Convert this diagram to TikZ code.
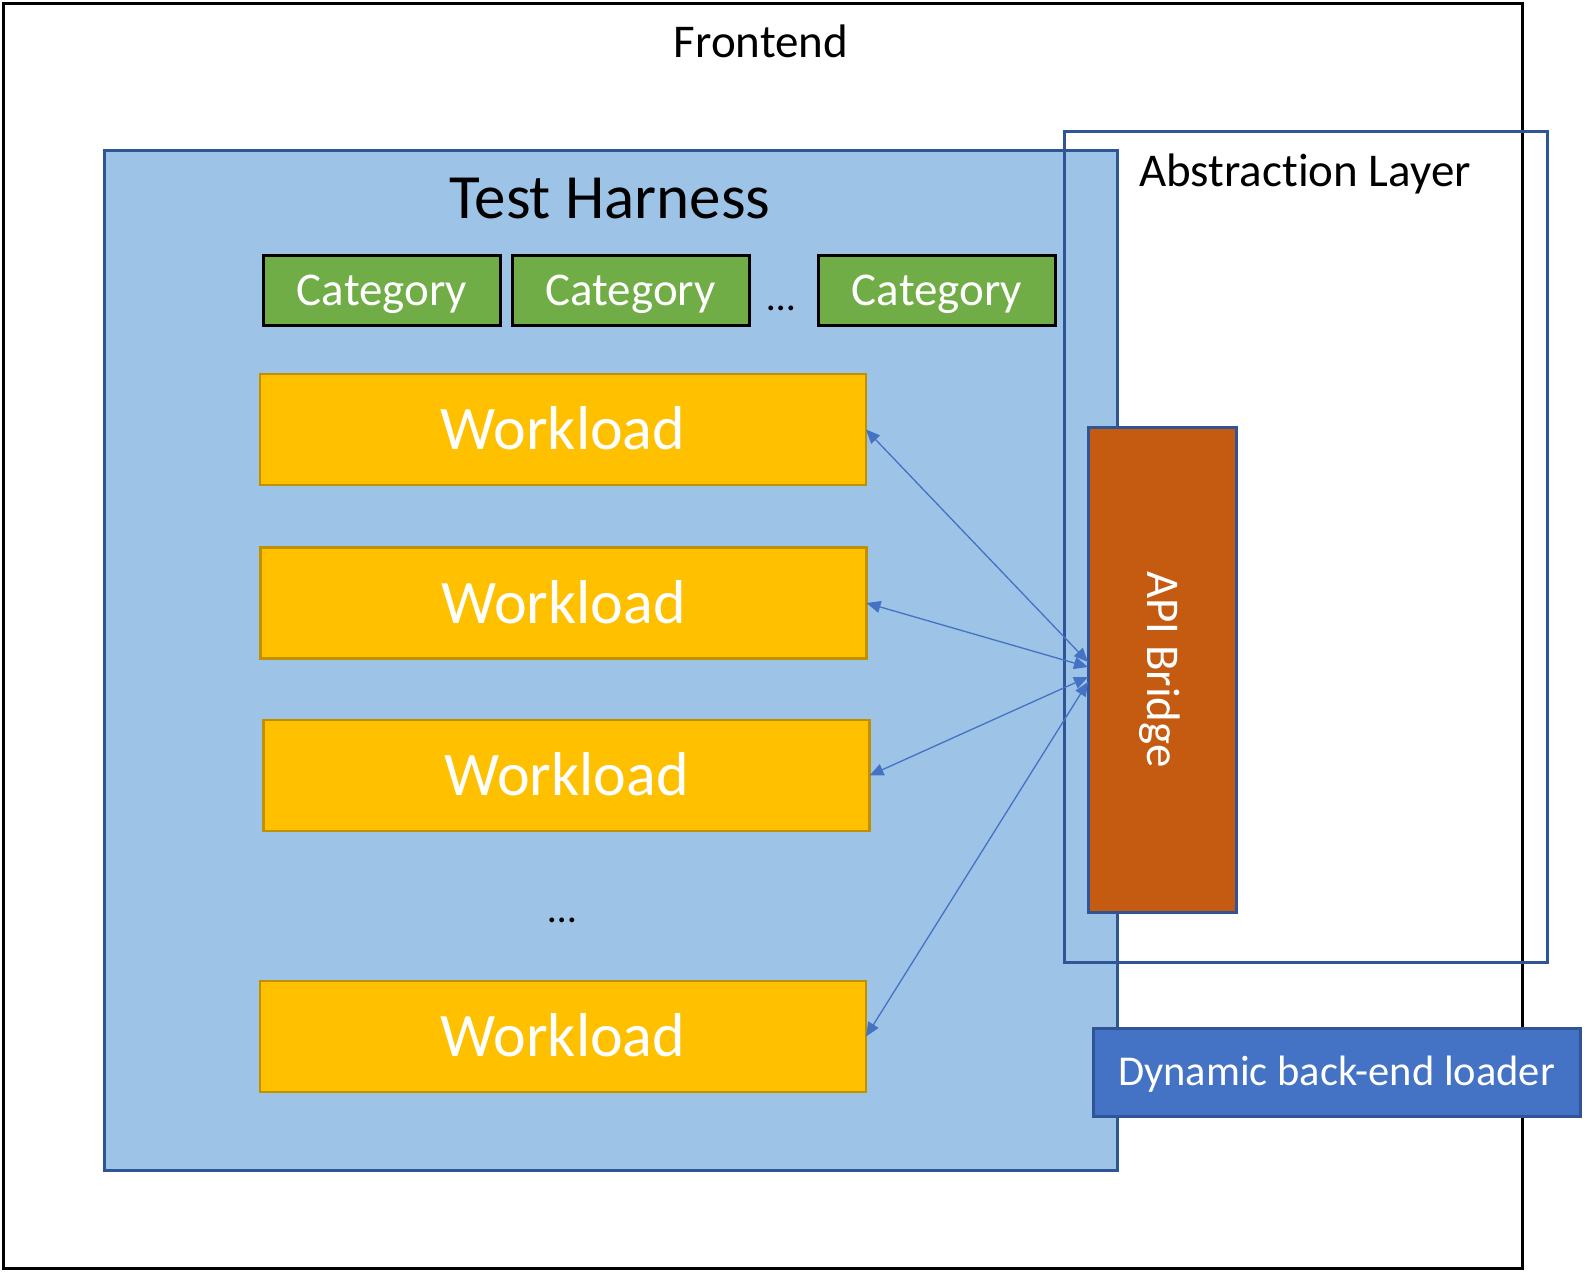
\documentclass[tikz,border=0pt]{standalone}
\usepackage{fontspec}
\setmainfont{Carlito}[Ligatures=NoCommon]
\usetikzlibrary{arrows.meta,positioning}

\definecolor{harnessblue}{HTML}{9DC3E6}
\definecolor{edgeblue}{HTML}{2F5597}
\definecolor{catgreen}{HTML}{70AD47}
\definecolor{wlgold}{HTML}{FFC000}
\definecolor{wledge}{HTML}{BF9000}
\definecolor{bridgeorange}{HTML}{C55A11}
\definecolor{loaderblue}{HTML}{4472C4}

\begin{document}
\begin{tikzpicture}[x=1pt,y=-1pt]
			\tikzset{
				box/.style={draw, line width=3pt, inner sep=0pt, outer sep=0pt},
				captext/.style={text height=#1, text depth=0pt},
				title/.style={captext=30pt, font={\fontsize{47}{56}\selectfont}},
				bigtitle/.style={captext=40.5pt, font={\fontsize{63}{75}\selectfont}},
				catbox/.style={box, captext=30pt, fill=catgreen, draw=black, minimum width=237pt, minimum height=70pt, text=white, font={\fontsize{47}{56}\selectfont}},
				wlbox/.style={box, line width=2.5pt, captext=40pt, fill=wlgold, draw=wledge, minimum width=606pt, minimum height=111pt, text=white, font={\fontsize{62}{74}\selectfont}},
				arrow/.style={{Triangle[length=14pt,width=12pt]}-{Triangle[length=14pt,width=12pt]}, draw=loaderblue, line width=1.3pt},
			}

			\useasboundingbox (0,0) rectangle (1585,1272);

			\node[box, minimum width=1519pt, minimum height=1265pt] (frontend) at (762.5,635.5) {};
			\node[title] (frontendlbl) at (761,42) {Frontend};

			\node[box, fill=harnessblue, draw=edgeblue, minimum width=1013pt, minimum height=1020pt] (harness) at (610.5,660) {};
			\node[bigtitle] (harnesslbl) at (610,198) {Test Harness};

			\node[box, draw=edgeblue, minimum width=483pt, minimum height=831pt] (abstraction) at (1305.5,546.5) {};
			\node[title] (abstractionlbl) at (1305,171) {Abstraction Layer};

			\node[catbox] (cat-1) at (382,290) {Category};
			\node[catbox] (cat-2) at (630.5,290) {Category};
			\node[catbox] (cat-3) at (937,290) {Category};
			\node[font={\fontsize{40}{48}\selectfont}, anchor=base] (catdots) at (781,310) {\dots};

			\foreach \i/\x/\y in {1/563/429.5, 2/563.5/603, 3/566.5/775.5, 4/563/1036.5}
				{
					\node[wlbox] (wl-\i) at (\x,\y) {Workload};
				}
			\node[font={\fontsize{40}{48}\selectfont}, anchor=base] (wldots) at (562,922) {\dots};

			\node[box, fill=bridgeorange, draw=edgeblue, minimum width=148pt, minimum height=485pt] (bridge) at (1162,669.5) {};
			\node[rotate=-90, text=white, title] (bridgelbl) at (bridge.center) {API Bridge};

			\node[box, captext=27.5pt, fill=loaderblue, draw=edgeblue, minimum width=487pt, minimum height=88pt, text=white, font={\fontsize{42.5}{50}\selectfont}] (loader) at (1336.5,1072) {Dynamic back-end loader};

			\foreach \i/\s in {1/7.5, 2/2.5, 3/-7.5, 4/-12.5}
				{
					\draw[arrow] ([yshift=\s pt]bridge.west) -- (wl-\i.east);
				}

		\end{tikzpicture}
\end{document}
